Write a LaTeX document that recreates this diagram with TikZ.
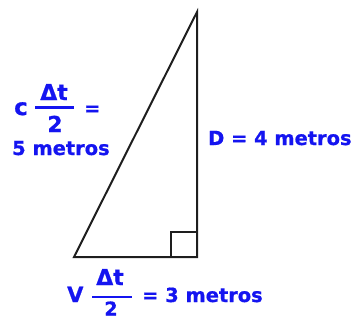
\documentclass[tikz,border=0pt]{standalone}
\usepackage{fontspec}
\setmainfont{DejaVu Sans}[BoldFeatures={FakeBold=0.8}]
\definecolor{lblue}{RGB}{20,20,240}
\definecolor{edge}{RGB}{30,30,30}
\begin{document}
\begin{tikzpicture}[x=1bp,y=-1bp,
  lbl/.style={text=lblue,font=\fontsize{19.5}{19.5}\selectfont\bfseries,inner sep=0pt,anchor=base west},
  frac/.style={text=lblue,font=\fontsize{22}{22}\selectfont\bfseries,inner sep=0pt,anchor=base},
  side/.style={draw=edge,line width=2bp,line join=miter}]
\useasboundingbox (0,0) rectangle (357,320);
% triangle
\coordinate (T) at (197,12);
\coordinate (BL) at (74,257);
\coordinate (BR) at (197,257);
\draw[side] (T) -- (BR) -- (BL) -- cycle;
\draw[side,line width=1.6bp] (171,257) -- (171,232) -- (197,232);
% left label
\node[lbl,font=\fontsize{23}{23}\selectfont\bfseries] (c) at (14,115) {c};
\node[frac] (dt1) at (54,100) {Δt};
\draw[lblue,line width=2.4bp] (35,107.5) -- (74,107.5);
\node[frac] (two1) at (55,132) {2};
\node[lbl] (eq1) at (84,115) {=};
\node[lbl] (cinco) at (12,155) {5 metros};
% right label
\node[lbl] (D) at (208,145) {D = 4 metros};
% bottom label
\node[lbl,font=\fontsize{21}{21}\selectfont\bfseries] (V) at (67,302) {V};
\node[frac] (dt2) at (110,285) {Δt};
\draw[lblue,line width=2.4bp] (92,297) -- (132,297);
\node[frac,font=\fontsize{19}{19}\selectfont\bfseries] (two2) at (111,315.5) {2};
\node[lbl] (tres) at (142,302) {= 3 metros};
\end{tikzpicture}
\end{document}
